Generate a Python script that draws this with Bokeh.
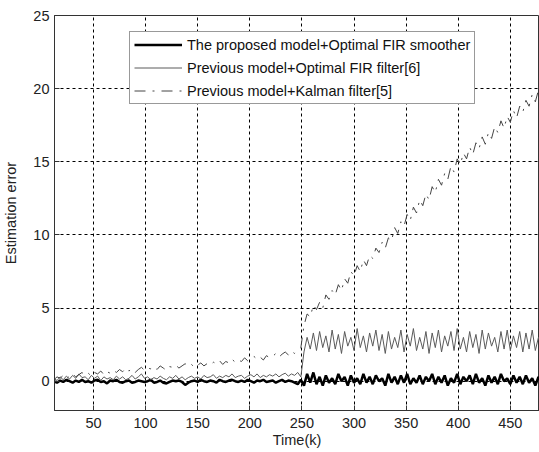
from bokeh.plotting import figure
from bokeh.models import Range1d, FixedTicker, Legend, LegendItem
from bokeh.embed import file_html
from bokeh.resources import INLINE

# time steps (sampled every 3 steps)
k = list(range(12, 481, 3))

proposed = [
    0.0, -0.1, 0.05, -0.05, 0.1, 0.0, -0.1, 0.05, -0.05, 0.1,
    -0.05, 0.0, -0.1, 0.05, 0.1, -0.05, 0.0, -0.15, 0.05, 0.0,
    0.1, -0.05, -0.1, 0.0, 0.05, -0.1, -0.05, 0.05, 0.0, -0.05,
    0.0, 0.1, -0.1, -0.05, 0.05, -0.1, -0.15, -0.05, 0.05, 0.0,
    0.05, -0.05, -0.25, -0.1, 0.0, 0.05, -0.05, 0.1, 0.0, -0.05,
    0.05, 0.0, -0.1, 0.1, 0.0, -0.05, 0.05, 0.1, 0.0, -0.05,
    0.05, -0.05, 0.1, 0.0, -0.1, 0.05, 0.0, 0.1, -0.05, 0.0,
    0.05, -0.1, 0.0, 0.1, -0.05, 0.05, 0.0, -0.1, -0.2, 0.1,
    -0.3, 0.5, -0.1, 0.6, -0.2, 0.3, -0.3, 0.4, -0.1, 0.2,
    -0.2, 0.5, 0.0, 0.3, -0.3, 0.4, -0.1, 0.2, -0.2, 0.5,
    -0.1, 0.3, -0.2, 0.4, 0.0, 0.2, -0.3, 0.5, -0.1, 0.3,
    -0.2, 0.4, -0.1, 0.5, -0.2, 0.2, -0.1, 0.4, -0.2, 0.3,
    0.0, 0.5, -0.2, 0.3, -0.1, 0.4, -0.3, 0.2, -0.1, 0.5,
    -0.2, 0.3, 0.0, 0.4, -0.2, 0.5, -0.1, 0.2, -0.3, 0.4,
    -0.1, 0.3, -0.2, 0.5, 0.0, 0.2, -0.2, 0.4, -0.1, 0.3,
    -0.2, 0.4, -0.1, 0.2, -0.3, 0.3, -0.1,
]

fir_filter = [
    0.2, 0.05, 0.3, 0.1, 0.35, 0.15, 0.4, 0.2, 0.5, 0.25,
    0.3, 0.1, 0.4, 0.2, 0.35, 0.05, 0.3, 0.15, 0.25, 0.1,
    0.35, 0.15, 0.3, 0.1, 0.2, 0.4, 0.15, 0.3, 0.5, 0.2,
    0.3, 0.1, 0.25, 0.15, 0.35, 0.2, 0.1, 0.3, 0.2, 0.4,
    0.15, 0.3, 0.1, 0.25, 0.35, 0.2, 0.3, 0.15, 0.4, 0.25,
    0.3, 0.45, 0.2, 0.35, 0.25, 0.4, 0.3, 0.5, 0.25, 0.35,
    0.4, 0.2, 0.35, 0.45, 0.3, 0.5, 0.25, 0.4, 0.3, 0.45,
    0.35, 0.5, 0.3, 0.45, 0.55, 0.35, 0.5, 0.4, 0.6, 0.3,
    2.0, 3.0, 2.2, 3.3, 2.1, 3.4, 2.3, 3.1, 2.0, 3.5,
    2.2, 3.2, 1.9, 3.4, 2.4, 3.0, 2.1, 3.6, 2.3, 3.1,
    2.0, 3.3, 2.4, 3.5, 2.1, 3.2, 1.9, 3.4, 2.2, 3.0,
    2.3, 3.5, 2.0, 3.2, 2.4, 3.6, 2.1, 3.0, 2.2, 3.4,
    1.9, 3.3, 2.3, 3.5, 2.0, 3.1, 2.4, 3.4, 2.1, 3.6,
    2.2, 3.0, 2.0, 3.4, 2.3, 3.2, 1.9, 3.5, 2.2, 3.3,
    2.4, 3.0, 2.0, 3.4, 2.2, 3.5, 2.1, 3.1, 2.3, 3.4,
    2.0, 3.3, 2.2, 3.5, 2.1, 3.0, 2.4,
]

kalman = [
    0.1, 0.3, 0.2, 0.4, 0.15, 0.35, 0.5, 0.3, 0.45, 0.6,
    0.4, 0.55, 0.35, 0.6, 0.5, 0.7, 0.45, 0.65, 0.55, 0.75,
    0.6, 0.8, 0.65, 0.9, 0.7, 0.85, 0.6, 0.8, 0.95, 0.75,
    0.9, 0.85, 1.0, 0.8, 1.05, 0.9, 0.75, 1.0, 0.95, 1.1,
    0.9, 1.05, 1.2, 1.0, 1.15, 0.95, 1.1, 1.25, 1.05, 1.2,
    1.1, 1.3, 1.2, 1.4, 1.15, 1.35, 1.25, 1.5, 1.3, 1.45,
    1.35, 1.6, 1.4, 1.55, 1.7, 1.5, 1.65, 1.45, 1.75, 1.6,
    1.7, 1.9, 1.65, 1.85, 2.0, 1.8, 2.05, 1.9, 2.1, 2.3,
    3.8, 4.6, 4.4, 5.2, 4.9, 5.4, 5.0, 5.9, 5.6, 6.2,
    5.9, 6.6, 6.2, 7.0, 6.7, 7.5, 7.2, 7.9, 7.5, 8.3,
    7.9, 8.6, 8.4, 9.1, 8.8, 9.5, 9.1, 9.8, 9.6, 10.5,
    10.1, 10.9, 10.6, 11.4, 11.0, 11.9, 11.5, 12.4, 12.0, 12.8,
    12.4, 13.3, 12.9, 13.8, 13.4, 14.2, 13.8, 14.7, 14.3, 15.2,
    14.8, 15.6, 15.2, 16.0, 15.5, 16.3, 15.9, 16.7, 16.2, 17.0,
    16.6, 17.4, 17.0, 17.8, 17.3, 18.1, 17.7, 18.5, 18.0, 18.8,
    18.4, 19.2, 18.8, 19.6, 19.1, 19.9, 19.5,
]

x_ticks = [50, 100, 150, 200, 250, 300, 350, 400, 450]
y_ticks = [0, 5, 10, 15, 20, 25]
labels = [
    "The proposed model+Optimal FIR smoother",
    "Previous model+Optimal FIR filter[6]",
    "Previous model+Kalman filter[5]",
]

FONT = "Liberation Sans"
FS = "14.5px"

p = figure(width=539, height=452, output_backend="svg", toolbar_location=None,
           x_range=Range1d(12.6, 478), y_range=Range1d(-2, 25),
           min_border_left=53, min_border_right=0, min_border_top=15,
           min_border_bottom=42)

p.background_fill_color = "white"
p.border_fill_color = "white"
p.outline_line_color = "#333333"
p.outline_line_width = 1

r1 = p.line(k, proposed, line_color="black", line_width=2.5)
r2 = p.line(k, fir_filter, line_color="#5a5a5a", line_width=1)
r3 = p.line(k, kalman, line_color="#444444", line_width=1, line_dash="11 7 2 7")

for ax in (p.xaxis[0], p.yaxis[0]):
    ax.axis_line_color = "#333333"
    ax.major_tick_in = 5
    ax.major_tick_out = 0
    ax.minor_tick_in = 0
    ax.minor_tick_out = 0
    ax.major_tick_line_color = "#333333"
    ax.major_label_text_font = FONT
    ax.major_label_text_font_size = FS
    ax.major_label_text_color = "#222222"
    ax.axis_label_text_font = FONT
    ax.axis_label_text_font_size = FS
    ax.axis_label_text_font_style = "normal"
    ax.axis_label_text_color = "#222222"

p.xaxis.ticker = FixedTicker(ticks=x_ticks)
p.yaxis.ticker = FixedTicker(ticks=y_ticks)
p.xaxis.axis_label = "Time(k)"
p.yaxis.axis_label = "Estimation error"
p.xaxis.major_label_standoff = 7
p.xaxis.axis_label_standoff = 1
p.yaxis.major_label_standoff = 5
p.yaxis.axis_label_standoff = 11

for g in (p.xgrid[0], p.ygrid[0]):
    g.grid_line_color = "black"
    g.grid_line_dash = "3 3"
    g.grid_line_width = 1
    g.grid_line_alpha = 1.0

legend = Legend(items=[LegendItem(label=labels[0], renderers=[r1]),
                       LegendItem(label=labels[1], renderers=[r2]),
                       LegendItem(label=labels[2], renderers=[r3])],
                location=(75, 306))
legend.border_line_color = "#333333"
legend.border_line_width = 1
legend.background_fill_color = "white"
legend.background_fill_alpha = 1.0
legend.padding = 4
legend.spacing = 6
legend.margin = 0
legend.label_height = 17
legend.glyph_height = 17
legend.glyph_width = 48
legend.label_standoff = 5
legend.label_text_font = FONT
legend.label_text_font_size = FS
legend.label_text_color = "#111111"
p.add_layout(legend, "center")

open("out.html", "w").write(file_html(p, INLINE))
